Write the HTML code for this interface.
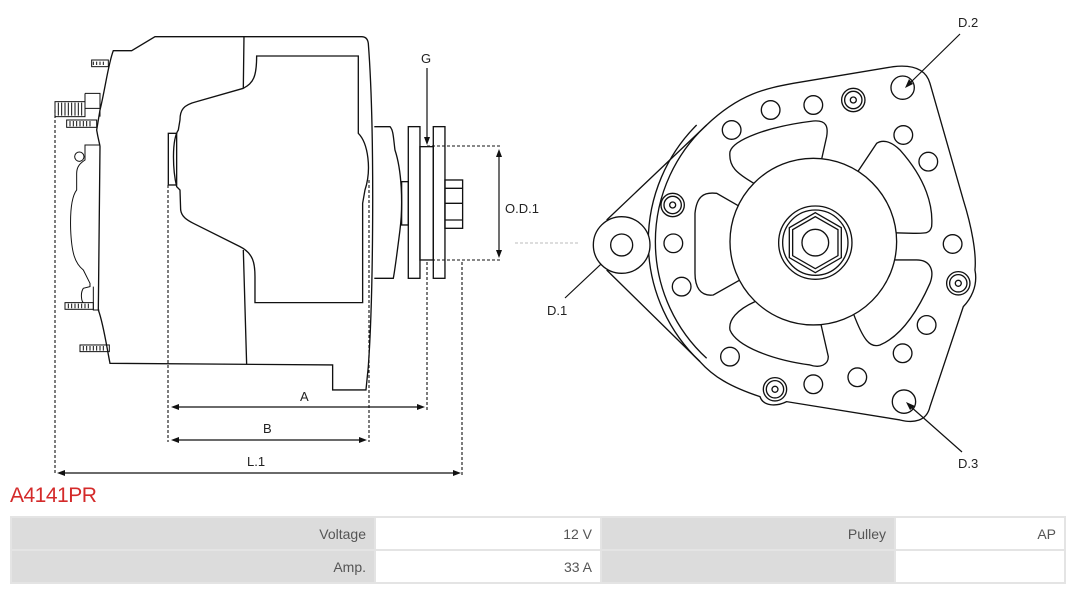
<!DOCTYPE html>
<html><head><meta charset="utf-8"><style>
body{margin:0;width:1080px;height:589px;background:#fff;position:relative;overflow:hidden;font-family:"Liberation Sans",sans-serif}
svg{position:absolute;left:0;top:0}
.t{position:absolute;left:10px;top:484px;color:#d42a2a;font-size:21px;letter-spacing:-0.5px}
table{position:absolute;left:10px;top:516px;width:1056px;border-collapse:separate;border-spacing:2px;background:#e4e4e4;font-size:14px;color:#555}
td{height:31px;padding:0 8px;text-align:right}
.g{background:#dcdcdc}.w{background:#fff}
</style></head><body>
<svg width="1080" height="589" viewBox="0 0 1080 589" font-family="Liberation Sans, sans-serif" font-size="13" fill="none" stroke="#111">
<g transform="translate(40,30) scale(0.3333)" stroke-width="4">
<path d="M210,1000 L878,1005 L878,1080 L978,1080 L985,1010 C1000,800 1005,300 985,40 C983,25 975,20 965,20 L345,20 L275,62 L220,62 C205,100 195,180 180,240 L170,300 C175,330 180,345 180,350 L175,840 C190,880 200,950 210,1000 Z"/>
<path d="M612,20 L610,175 M610,660 L620,1003"/>
<path d="M650,78 L955,78 L955,310 C985,340 995,420 975,480 L968,520 L968,818 L645,818 L645,740 C645,700 640,670 600,650 L460,580 C440,570 425,560 422,540 L420,480 L410,470 C398,420 395,330 415,300 L420,270 C420,240 430,225 470,215 L610,175 C640,160 650,140 650,78 Z"/>
<rect x="385" y="310" width="25" height="155"/>
<path d="M1003,290 L1050,290 C1060,300 1060,320 1065,360 C1085,420 1090,520 1080,600 C1070,680 1065,720 1060,745 L1003,745"/>
<rect x="1085" y="455" width="20" height="130"/>
<rect x="1105" y="290" width="35" height="455"/><rect x="1180" y="290" width="35" height="455"/>
<rect x="1140" y="350" width="40" height="340"/>
<rect x="1215" y="450" width="53" height="145"/><path d="M1215,475 H1268 M1215,520 H1268 M1215,570 H1268"/>
<g stroke-width="3">
<rect x="155" y="90" width="50" height="20"/><rect x="45" y="215" width="90" height="45"/><rect x="80" y="270" width="90" height="22"/><rect x="75" y="818" width="85" height="20"/><rect x="120" y="945" width="88" height="20"/>
<path d="M160,95V105M170,95V105M180,95V105M190,95V105M55,218V257M65,218V257M75,218V257M85,218V257M95,218V257M105,218V257M115,218V257M125,218V257M90,273V289M100,273V289M110,273V289M120,273V289M130,273V289M140,273V289M150,273V289M85,821V835M95,821V835M105,821V835M115,821V835M125,821V835M135,821V835M145,821V835M130,948V962M140,948V962M150,948V962M160,948V962M170,948V962M180,948V962M190,948V962"/>
<path d="M135,190 H180 V260 M135,190 V260 M135,235 H180"/>
<path d="M178,345 H135 V390 C120,400 110,410 110,430 L110,480 C95,500 90,540 92,600 C95,670 105,700 130,720 L150,760 V770 L130,775 C120,790 125,815 130,818 M178,840 H160 V770"/>
<circle cx="118" cy="380" r="14"/>
</g></g>
<g stroke-width="1.1" stroke-dasharray="3,2">
<path d="M55,110V475M168,185V442M369,180V442M427,262V410M462,262V475M427,146H500M427,260H500"/>
<path d="M515,243H580" stroke="#bbb"/>
</g>
<g stroke-width="1.2">
<path d="M175,407H421M175,440H363M61,473H457M499,153V254M427,68V140M565,298L616,250M960,34L909,84M962,452L910,406"/>
</g>
<g fill="#111" stroke="none">
<polygon points="171,407 179,404 179,410"/><polygon points="425,407 417,404 417,410"/>
<polygon points="171,440 179,437 179,443"/><polygon points="367,440 359,437 359,443"/>
<polygon points="57,473 65,470 65,476"/><polygon points="461,473 453,470 453,476"/>
<polygon points="499,149 496,157 502,157"/><polygon points="499,258 496,250 502,250"/>
<polygon points="427,145 424,137 430,137"/>
<polygon points="619,247 610,251 614,255"/>
<polygon points="905,88 909,79 913,84"/>
<polygon points="906,402 910,410 915,406"/>
</g>
<g fill="#222" stroke="none" font-size="13">
<text x="421" y="63">G</text><text x="300" y="401">A</text><text x="263" y="433">B</text><text x="247" y="466">L.1</text><text x="505" y="213">O.D.1</text><text x="547" y="315">D.1</text><text x="958" y="27">D.2</text><text x="958" y="468">D.3</text>
</g>
<g transform="translate(580,40) scale(0.3333)" stroke-width="4">
<path d="M80,540 L380,255 C480,160 560,145 640,130 L940,80 C1010,72 1040,95 1050,130 L1150,480 C1175,560 1190,640 1185,690 C1195,740 1170,780 1150,800 L1050,1100 C1040,1145 1000,1150 960,1140 L620,1085 C590,1100 550,1100 540,1070 C450,1040 400,1010 360,965 L80,690"/>
<path d="M350,255 A495,495 0 0 0 360,965 M380,255 A475,475 0 0 0 380,955"/>
<circle cx="125" cy="615" r="85" fill="#fff"/><circle cx="125" cy="615" r="33"/>
<path d="M525,432 C470,400 445,380 450,335 C460,300 560,260 700,243 C740,240 745,260 740,290 L720,380"/>
<path d="M830,400 L890,310 C905,300 930,300 960,330 C1040,420 1060,500 1055,560 C1050,580 1040,580 1000,580 L930,578"/>
<path d="M930,660 L1010,660 C1050,660 1065,690 1050,730 C1010,820 960,890 900,915 C870,925 850,900 820,820"/>
<path d="M720,840 L745,950 C745,975 720,985 690,975 C580,960 470,920 450,870 C445,840 470,810 525,785"/>
<path d="M480,720 L400,765 C360,770 345,740 345,700 L345,520 C350,470 370,455 410,460 L480,500"/>
<circle cx="700" cy="605" r="250" fill="#fff"/>
<circle cx="706" cy="608" r="110"/><circle cx="706" cy="608" r="98"/>
<polygon points="706,518 784,563 784,653 706,698 628,653 628,563"/><polygon points="706,530 774,569 774,647 706,686 638,647 638,569"/>
<circle cx="706" cy="608" r="40"/>
<g>
<circle cx="455" cy="270" r="28"/><circle cx="572" cy="210" r="28"/><circle cx="700" cy="195" r="28"/><circle cx="970" cy="285" r="28"/><circle cx="1045" cy="365" r="28"/><circle cx="1118" cy="612" r="28"/><circle cx="1040" cy="855" r="28"/><circle cx="968" cy="940" r="28"/><circle cx="832" cy="1012" r="28"/><circle cx="700" cy="1033" r="28"/><circle cx="450" cy="950" r="28"/><circle cx="305" cy="740" r="28"/><circle cx="280" cy="610" r="28"/>
<circle cx="968" cy="143" r="35"/><circle cx="972" cy="1085" r="35"/>
<circle cx="820" cy="180" r="35"/><circle cx="820" cy="180" r="26"/><circle cx="820" cy="180" r="9"/>
<circle cx="1135" cy="730" r="35"/><circle cx="1135" cy="730" r="26"/><circle cx="1135" cy="730" r="9"/>
<circle cx="585" cy="1048" r="35"/><circle cx="585" cy="1048" r="26"/><circle cx="585" cy="1048" r="9"/>
<circle cx="278" cy="495" r="35"/><circle cx="278" cy="495" r="26"/><circle cx="278" cy="495" r="9"/>
</g></g>
</svg>
<div class="t">A4141PR</div>
<table><tr><td class="g" style="width:346px">Voltage</td><td class="w" style="width:208px">12 V</td><td class="g" style="width:276px">Pulley</td><td class="w">AP</td></tr>
<tr><td class="g">Amp.</td><td class="w">33 A</td><td class="g"></td><td class="w"></td></tr></table>
</body></html>
